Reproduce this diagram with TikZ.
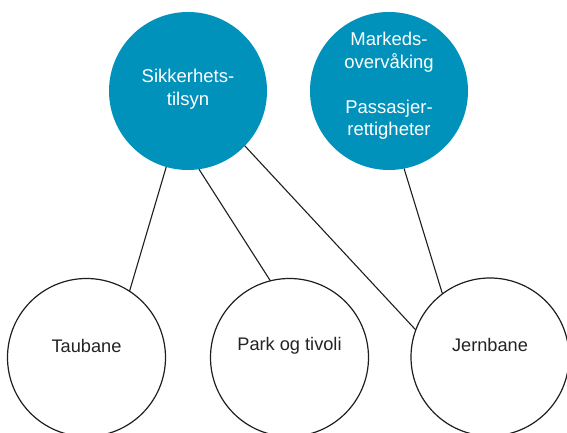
\documentclass[tikz,border=0pt]{standalone}
\usepackage{fontspec}
\setmainfont{Liberation Sans}
\definecolor{tealblue}{RGB}{0,146,187}
\definecolor{linec}{RGB}{30,30,30}
\definecolor{txtc}{RGB}{35,35,35}
\begin{document}
\begin{tikzpicture}[x=1pt,y=1pt,
  topc/.style={circle, fill=tealblue, draw=none, minimum size=158pt, inner sep=0pt, outer sep=0pt},
  botc/.style={circle, draw=linec, line width=1.2pt, fill=white, minimum size=158pt, inner sep=0pt, outer sep=0pt},
  toptxt/.style={text=white, font=\fontsize{18.5}{22.5}\selectfont, align=center, inner sep=0pt},
  bottxt/.style={text=txtc, font=\fontsize{18.2}{22}\selectfont, inner sep=0pt},
  conn/.style={draw=linec, line width=1.1pt}]
\useasboundingbox (0,0) rectangle (567,433);
\clip (0,0) rectangle (567,433);
\node[topc] (sik) at (188,342) {};
\node[topc] (mark) at (389,342) {};
\node[botc] (tau) at (86.5,75.5) {};
\node[botc] (park) at (289.5,75.5) {};
\node[botc] (jern) at (490,76) {};
\node[toptxt] (siktxt) at ([yshift=2pt]sik.center) {Sikkerhets-\\tilsyn};
\node[toptxt] (marktxt) at ([yshift=5pt]mark.center) {Markeds-\\overvåking\\[22.5pt]Passasjer-\\rettigheter};
\node[bottxt] (tautxt) at ([yshift=12pt]tau.center) {Taubane};
\node[bottxt] (parktxt) at ([yshift=12pt]park.center) {Park og tivoli};
\node[bottxt] (jerntxt) at ([yshift=12pt]jern.center) {Jernbane};
\draw[conn] (sik.254.5) -- (tau.57.8);
\draw[conn] (sik.278.7) -- (park.104);
\draw[conn] (sik.316.5) -- (jern.160);
\draw[conn] (mark.281.7) -- (jern.127.7);
\end{tikzpicture}
\end{document}
